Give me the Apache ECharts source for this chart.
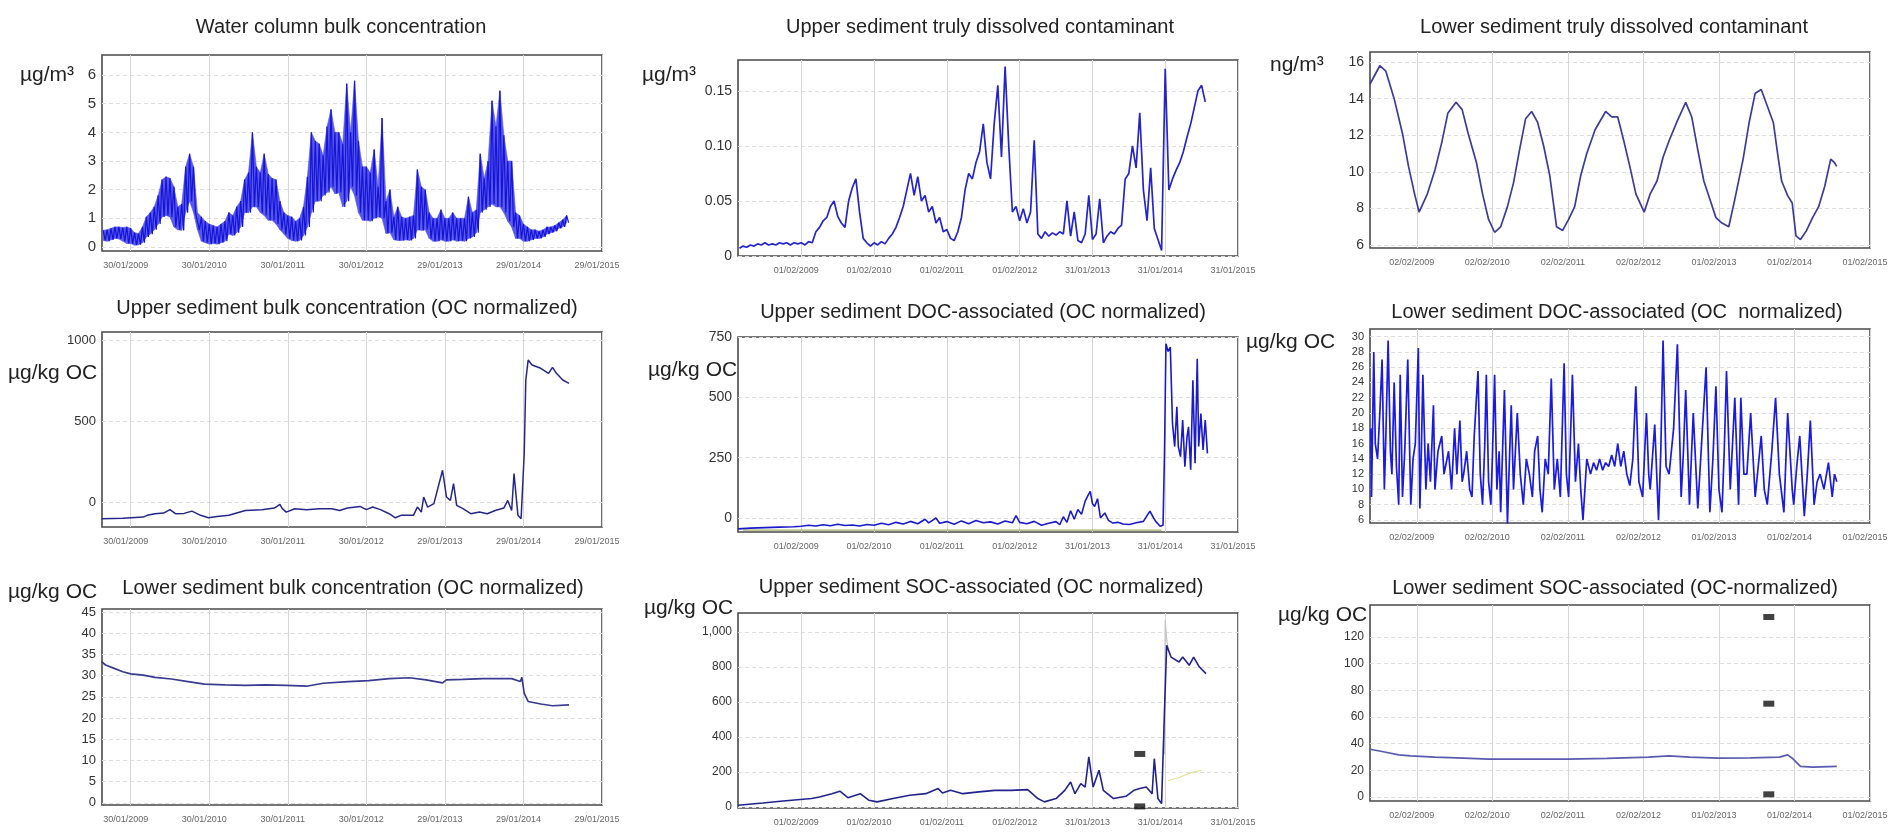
<!DOCTYPE html>
<html>
<head>
<meta charset="utf-8">
<script src="https://cdn.jsdelivr.net/npm/echarts@6/dist/echarts.min.js"></script>
<style>
  html, body { margin: 0; padding: 0; background: #fff; }
  #chart { width: 1900px; height: 832px; }
</style>
</head>
<body>
<div id="chart"></div>
<script>
// x positions are in years counted from the first date label of each column
const col1Dates = ['30/01/2009', '30/01/2010', '30/01/2011', '30/01/2012', '29/01/2013', '29/01/2014', '29/01/2015']
const col2Dates = ['01/02/2009', '01/02/2010', '01/02/2011', '01/02/2012', '31/01/2013', '31/01/2014', '31/01/2015']
const col3Dates = ['02/02/2009', '02/02/2010', '02/02/2011', '02/02/2012', '01/02/2013', '01/02/2014', '01/02/2015']
const yearTicks = [0, 1, 2, 3, 4, 5, 6]

const titles = [
  'Water column bulk concentration',
  'Upper sediment truly dissolved contaminant',
  'Lower sediment truly dissolved contaminant',
  'Upper sediment bulk concentration (OC normalized)',
  'Upper sediment DOC-associated (OC normalized)',
  'Lower sediment DOC-associated (OC  normalized)',
  'Lower sediment bulk concentration (OC normalized)',
  'Upper sediment SOC-associated (OC normalized)',
  'Lower sediment SOC-associated (OC-normalized)'
]
const units = ['µg/m³', 'µg/m³', 'ng/m³', 'µg/kg OC', 'µg/kg OC', 'µg/kg OC', 'µg/kg OC', 'µg/kg OC', 'µg/kg OC']

const p1YTicks = [0, 1, 2, 3, 4, 5, 6]
const p2YTicks = [0, 0.05, 0.1, 0.15]
const p2YLabels = ['0', '0.05', '0.10', '0.15']
const p3YTicks = [6, 8, 10, 12, 14, 16]
const p4YTicks = [0, 500, 1000]
const p5YTicks = [0, 250, 500, 750]
const p6YTicks = [6, 8, 10, 12, 14, 16, 18, 20, 22, 24, 26, 28, 30]
const p7YTicks = [0, 5, 10, 15, 20, 25, 30, 35, 40, 45]
const p8YTicks = [0, 200, 400, 600, 800, 1000]
const p8YLabels = ['0', '200', '400', '600', '800', '1,000']
const p9YTicks = [0, 20, 40, 60, 80, 100, 120]

// water column bulk concentration: top and bottom of the noisy band, every 0.05 year
const p1Start = -0.35
const p1Step = 0.05
const p1Upper = [0.58, 0.6, 0.65, 0.7, 0.7, 0.68, 0.7, 0.65, 0.5, 0.47, 0.7, 1.05, 1.2, 1.4, 1.8, 2.35, 2.45, 2.4, 2.1, 1.4,
  1.5, 2.8, 3.25, 2.8, 1.2, 1.05, 0.9, 0.8, 0.75, 0.7, 0.8, 0.9, 1.2, 1.1, 1.4, 1.6, 2.35, 2.6, 4.0, 2.8,
  2.6, 3.25, 2.55, 2.4, 2.35, 1.6, 1.2, 1.1, 1.05, 0.9, 1.0, 1.4, 2.45, 4.0, 3.7, 3.6, 3.2, 4.2, 4.8, 4.0,
  4.0, 3.6, 5.7, 4.0, 5.8, 3.7, 2.8, 2.8, 2.6, 3.4, 2.1, 4.5, 1.6, 2.0, 1.05, 1.4, 1.05, 1.0, 1.05, 1.1,
  2.7, 2.1, 2.0, 1.2, 1.0, 1.0, 1.3, 1.0, 1.0, 1.2, 1.0, 1.0, 1.0, 1.75, 1.2, 1.3, 3.25, 2.4, 3.0, 5.1,
  4.2, 5.45, 3.9, 3.0, 3.0, 1.2, 1.1, 0.8, 0.7, 0.6, 0.6, 0.55, 0.6, 0.7, 0.7, 0.75, 0.85, 0.95, 1.1]
const p1Lower = [0.23, 0.2, 0.25, 0.3, 0.28, 0.2, 0.12, 0.12, 0.06, 0.08, 0.15, 0.35, 0.45, 0.6, 0.8, 1.05, 1.1, 1.05, 0.7, 0.6,
  0.58, 1.2, 1.6, 1.2, 0.6, 0.2, 0.15, 0.1, 0.12, 0.1, 0.15, 0.2, 0.45, 0.4, 0.5, 0.7, 1.2, 1.2, 1.4, 1.4,
  1.2, 1.1, 0.93, 0.93, 0.8, 0.6, 0.45, 0.3, 0.23, 0.2, 0.23, 0.4, 0.7, 1.2, 1.6, 1.6, 1.8, 1.9, 2.1, 1.86,
  1.9, 1.4, 1.6, 2.1, 1.8, 1.2, 0.93, 0.93, 0.9, 1.0, 1.05, 1.0, 0.47, 0.5, 0.25, 0.23, 0.23, 0.25, 0.23, 0.3,
  0.6, 0.58, 0.6, 0.3, 0.2, 0.2, 0.25, 0.2, 0.2, 0.25, 0.2, 0.22, 0.2, 0.3, 0.35, 0.5, 1.2, 1.3, 1.4, 1.5,
  1.4, 1.4, 1.2, 0.9, 0.7, 0.3, 0.3, 0.2, 0.2, 0.25, 0.3, 0.3, 0.35, 0.45, 0.5, 0.55, 0.65, 0.7, 0.85]

// upper sediment truly dissolved, one value every 0.05 year
const p2Start = -0.85
const p2Step = 0.05
const p2Values = [0.007, 0.009, 0.008, 0.010, 0.009, 0.011, 0.010, 0.012, 0.010, 0.011, 0.010, 0.012, 0.011, 0.012, 0.010,
  0.012, 0.011, 0.012, 0.010, 0.013, 0.012, 0.022, 0.026, 0.032, 0.035, 0.045, 0.050, 0.036, 0.030, 0.026,
  0.050, 0.062, 0.070, 0.040, 0.016, 0.012, 0.009, 0.012, 0.010, 0.013, 0.011, 0.016, 0.020, 0.026, 0.035,
  0.045, 0.060, 0.075, 0.055, 0.072, 0.050, 0.055, 0.040, 0.045, 0.030, 0.035, 0.022, 0.024, 0.016, 0.014,
  0.022, 0.035, 0.060, 0.075, 0.070, 0.085, 0.095, 0.120, 0.085, 0.070, 0.120, 0.155, 0.090, 0.172, 0.100,
  0.040, 0.045, 0.032, 0.043, 0.030, 0.040, 0.105, 0.020, 0.016, 0.022, 0.018, 0.021, 0.019, 0.022, 0.020,
  0.050, 0.018, 0.040, 0.014, 0.012, 0.020, 0.055, 0.015, 0.020, 0.052, 0.012, 0.018, 0.022, 0.020, 0.025,
  0.028, 0.070, 0.075, 0.100, 0.080, 0.130, 0.060, 0.032, 0.080, 0.025, 0.015, 0.005, 0.170, 0.060, 0.070,
  0.078, 0.085, 0.095, 0.108, 0.120, 0.135, 0.150, 0.155, 0.140]

// lower sediment truly dissolved [year, ng/m3]
const p3Points = [[-0.62, 14.8], [-0.49, 15.8], [-0.41, 15.5], [-0.3, 14.0], [-0.19, 12.1], [-0.11, 10.3], [-0.03, 8.8],
  [0.03, 7.8], [0.14, 8.8], [0.24, 10.1], [0.33, 11.6], [0.41, 13.2], [0.52, 13.8], [0.6, 13.4], [0.68, 12.1],
  [0.79, 10.5], [0.87, 8.8], [0.95, 7.4], [1.03, 6.7], [1.11, 7.0], [1.2, 8.1], [1.28, 9.4], [1.36, 11.2],
  [1.44, 12.9], [1.52, 13.3], [1.6, 12.7], [1.68, 11.4], [1.76, 9.8], [1.85, 7.0], [1.93, 6.8], [2.01, 7.4],
  [2.09, 8.1], [2.17, 9.8], [2.25, 11.0], [2.36, 12.3], [2.5, 13.3], [2.58, 13.0], [2.66, 13.0], [2.74, 11.7],
  [2.82, 10.3], [2.9, 8.8], [3.01, 7.8], [3.09, 8.8], [3.18, 9.5], [3.26, 10.8], [3.34, 11.7], [3.45, 12.8],
  [3.56, 13.8], [3.64, 13.0], [3.72, 11.2], [3.8, 9.5], [3.88, 8.5], [3.96, 7.5], [4.04, 7.2], [4.13, 7.0],
  [4.21, 8.5], [4.32, 10.7], [4.4, 12.7], [4.48, 14.3], [4.56, 14.5], [4.64, 13.6], [4.72, 12.7], [4.78, 10.9],
  [4.83, 9.5], [4.91, 8.7], [4.97, 8.3], [5.02, 6.5], [5.08, 6.3], [5.16, 6.8], [5.24, 7.5], [5.32, 8.1],
  [5.4, 9.2], [5.48, 10.7], [5.53, 10.5], [5.56, 10.3]]

// upper sediment bulk (OC normalized)
const p4Points = [[-0.37, -103], [-0.1, -100], [0.16, -93], [0.21, -82], [0.31, -72], [0.42, -68], [0.5, -47],
  [0.57, -72], [0.68, -70], [0.78, -56], [0.89, -82], [0.99, -97], [1.1, -89], [1.25, -82], [1.46, -52],
  [1.67, -47], [1.83, -37], [1.9, -14], [1.93, -41], [1.98, -62], [2.09, -41], [2.24, -47], [2.4, -41],
  [2.56, -42], [2.66, -52], [2.76, -37], [2.92, -27], [3.0, -47], [3.08, -31], [3.18, -47], [3.29, -72],
  [3.37, -97], [3.44, -82], [3.6, -82], [3.65, -31], [3.7, -62], [3.73, 31], [3.78, -31], [3.86, -10],
  [3.97, 196], [4.02, 31], [4.07, 10], [4.11, 113], [4.15, -21], [4.23, -41], [4.33, -72], [4.44, -62],
  [4.54, -72], [4.64, -52], [4.75, -37], [4.8, 10], [4.85, -52], [4.88, 175], [4.93, -82], [4.97, -103],
  [5.01, 299], [5.03, 753], [5.06, 876], [5.11, 845], [5.22, 825], [5.32, 794], [5.37, 831], [5.42, 794],
  [5.5, 753], [5.58, 732]]

// upper sediment DOC-associated
const p5Points = [[-0.87, -45], [-0.7, -42], [-0.5, -40], [-0.3, -38], [-0.1, -36], [0.0, -34], [0.1, -30], [0.2, -33],
  [0.3, -28], [0.4, -32], [0.5, -26], [0.6, -31], [0.7, -29], [0.8, -33], [0.9, -27], [1.0, -30], [1.1, -22],
  [1.2, -28], [1.3, -18], [1.4, -25], [1.5, -14], [1.6, -24], [1.7, -5], [1.75, -20], [1.85, 0], [1.9, -22],
  [2.0, -15], [2.1, -26], [2.2, -12], [2.3, -24], [2.4, -10], [2.5, -20], [2.6, -16], [2.7, -25], [2.8, -12],
  [2.9, -20], [2.95, 10], [3.0, -18], [3.1, -24], [3.2, -14], [3.3, -30], [3.4, -22], [3.5, -15], [3.55, -28],
  [3.6, 5], [3.65, -18], [3.7, 30], [3.75, -5], [3.8, 35], [3.85, 15], [3.9, 70], [3.95, 100], [3.97, 110],
  [4.0, 60], [4.03, 48], [4.07, 80], [4.11, 0], [4.17, 21], [4.22, -10], [4.28, -21], [4.35, -18], [4.42, -25],
  [4.51, -27], [4.6, -20], [4.7, -14], [4.75, 10], [4.79, 28], [4.84, 0], [4.87, -14], [4.93, -34], [4.97, -30],
  [4.99, 268], [5.01, 722], [5.04, 690], [5.07, 708], [5.1, 392], [5.13, 296], [5.16, 461], [5.18, 296],
  [5.21, 254], [5.24, 406], [5.27, 213], [5.3, 337], [5.32, 378], [5.35, 200], [5.38, 571], [5.41, 227],
  [5.44, 660], [5.46, 296], [5.49, 433], [5.52, 282], [5.55, 406], [5.58, 268]]
const p5BasePoints = [[-0.8, -50], [4.95, -50]]

// lower sediment DOC-associated
const p6Points = [[-0.61, 18], [-0.6, 9], [-0.57, 28], [-0.55, 16], [-0.52, 14], [-0.49, 20], [-0.46, 27], [-0.43, 10],
  [-0.41, 17], [-0.38, 29.5], [-0.35, 15], [-0.33, 12], [-0.3, 24], [-0.27, 13], [-0.24, 8], [-0.22, 25],
  [-0.19, 9], [-0.16, 15], [-0.12, 27], [-0.08, 8], [-0.05, 14], [-0.02, 16], [0.02, 28.5], [0.04, 7.5],
  [0.06, 15], [0.08, 25], [0.12, 10], [0.15, 16], [0.18, 11], [0.22, 21], [0.24, 10], [0.28, 15], [0.33, 17],
  [0.36, 12], [0.38, 13], [0.42, 15], [0.46, 10], [0.5, 18], [0.53, 12], [0.57, 19], [0.6, 11], [0.62, 12],
  [0.66, 15], [0.7, 10], [0.73, 9], [0.76, 17], [0.81, 25.5], [0.84, 12], [0.87, 8], [0.9, 16], [0.92, 25],
  [0.95, 11], [0.98, 8], [1.0, 14], [1.03, 25], [1.06, 10], [1.09, 15], [1.11, 7], [1.16, 23], [1.2, 5.5],
  [1.22, 12], [1.25, 21], [1.28, 10], [1.33, 20], [1.37, 12], [1.41, 8], [1.45, 14], [1.49, 12], [1.53, 9],
  [1.56, 15], [1.6, 17], [1.63, 10], [1.66, 7], [1.7, 14], [1.74, 12], [1.78, 24.5], [1.82, 10], [1.86, 14],
  [1.9, 9], [1.95, 26.5], [1.98, 12], [2.01, 9], [2.06, 25], [2.1, 11], [2.14, 16], [2.17, 10], [2.2, 6],
  [2.25, 14], [2.3, 12], [2.34, 13.5], [2.38, 12.5], [2.42, 14], [2.46, 12.5], [2.5, 13.5], [2.54, 13],
  [2.58, 14.5], [2.62, 13], [2.66, 16], [2.7, 13], [2.74, 15], [2.78, 12], [2.82, 10.5], [2.86, 14], [2.9, 23.5],
  [2.94, 11], [2.99, 9], [3.04, 20], [3.07, 12], [3.09, 10], [3.15, 18.5], [3.18, 11], [3.2, 6], [3.23, 15],
  [3.26, 29.5], [3.3, 13], [3.34, 12], [3.4, 18], [3.45, 29], [3.5, 9], [3.53, 15], [3.56, 23], [3.61, 8],
  [3.63, 13], [3.66, 20], [3.72, 7.5], [3.77, 16], [3.83, 26], [3.88, 7], [3.92, 14], [3.96, 23.5], [4.0, 10],
  [4.04, 7], [4.07, 15], [4.1, 25.5], [4.15, 10], [4.21, 22], [4.26, 8], [4.29, 22], [4.33, 12], [4.37, 12],
  [4.42, 20], [4.48, 9], [4.52, 13], [4.56, 17], [4.6, 10], [4.64, 8], [4.7, 15], [4.75, 22], [4.8, 12],
  [4.86, 7], [4.91, 20], [4.97, 10], [4.99, 8], [5.03, 13], [5.07, 17], [5.13, 6.5], [5.17, 12], [5.21, 19],
  [5.26, 8], [5.3, 11], [5.34, 12], [5.39, 10], [5.45, 13.5], [5.5, 9], [5.53, 12], [5.56, 11]]

// lower sediment bulk (OC normalized)
const p7Points = [[-0.37, 33.3], [-0.32, 32.5], [-0.21, 31.7], [-0.1, 30.9], [0.0, 30.4], [0.16, 30.1], [0.31, 29.6],
  [0.52, 29.2], [0.73, 28.6], [0.94, 28.0], [1.2, 27.8], [1.46, 27.7], [1.72, 27.8], [1.98, 27.7], [2.24, 27.5],
  [2.45, 28.2], [2.77, 28.6], [3.03, 28.8], [3.29, 29.3], [3.55, 29.5], [3.76, 29.0], [3.97, 28.3], [4.02, 29.0],
  [4.23, 29.1], [4.49, 29.3], [4.85, 29.3], [4.96, 28.6], [4.98, 29.6], [5.01, 25.8], [5.06, 23.9], [5.22, 23.3],
  [5.37, 22.9], [5.58, 23.1]]

// upper sediment SOC-associated
const p8Points = [[-0.87, 10], [-0.53, 23], [-0.25, 34], [0.14, 48], [0.25, 57], [0.42, 76], [0.53, 90], [0.64, 53],
  [0.81, 76], [0.93, 38], [1.04, 29], [1.26, 48], [1.49, 67], [1.71, 76], [1.88, 105], [1.94, 80], [2.05, 95],
  [2.22, 76], [2.44, 86], [2.66, 95], [2.88, 95], [3.11, 99], [3.25, 48], [3.34, 29], [3.5, 48], [3.62, 95],
  [3.7, 143], [3.76, 76], [3.84, 133], [3.9, 114], [3.95, 286], [4.01, 114], [4.09, 210], [4.15, 95], [4.29, 48],
  [4.46, 61], [4.57, 95], [4.65, 105], [4.74, 114], [4.82, 76], [4.85, 276], [4.9, 48], [4.95, 19], [4.99, 552],
  [5.02, 924], [5.08, 857], [5.19, 829], [5.24, 857], [5.33, 810], [5.39, 857], [5.47, 800], [5.56, 762]]
const p8GreyPoints = [[4.99, 300], [5.0, 1070], [5.02, 960], [5.04, 900]]
const p8YellowPoints = [[5.04, 150], [5.2, 170], [5.35, 195], [5.5, 210]]
const p8Markers = [[4.65, 303], [4.65, 3]]

// lower sediment SOC-associated
const p9Points = [[-0.62, 35.8], [-0.46, 34.1], [-0.24, 31.6], [-0.08, 30.9], [0.24, 29.9], [0.62, 29.1], [0.95, 28.4],
  [1.44, 28.4], [1.99, 28.4], [2.52, 28.9], [3.07, 29.9], [3.34, 30.9], [3.61, 29.9], [3.99, 29.1], [4.42, 29.4],
  [4.8, 29.9], [4.91, 31.6], [4.97, 29.1], [5.08, 22.9], [5.24, 22.4], [5.56, 22.9]]
const p9Markers = [[4.66, 135], [4.66, 70], [4.66, 2]]

const byStep = (start, step, values) => values.map((v, i) => [start + i * step, v])
// band drawn as a zigzag between its top and bottom readings
const band = (start, step, upper, lower) =>
  upper.flatMap((u, i) => [[start + i * step, u], [start + i * step + step / 2, lower[i]]])
// one quad per step between the bottom and top readings: [x0, lo0, hi0, x1, lo1, hi1]
const bandQuads = (start, step, upper, lower) =>
  upper.slice(0, -1).map((u, i) => [start + i * step, lower[i], u, start + (i + 1) * step, lower[i + 1], upper[i + 1]])

// layout and styles (positions in px)
const FONT = 'Liberation Sans, Arial, sans-serif'
const panels = [
  { box: [102, 55, 500, 196], dates: col1Dates, xMin: -0.365, yMin: -0.14, yMax: 6.7, ticks: p1YTicks, yFont: 15, title: [341, 27], unit: [20, 75] },
  { box: [738, 60, 500, 196], dates: col2Dates, xMin: -0.87, yMin: 0, yMax: 0.178, ticks: p2YTicks, labels: p2YLabels, yFont: 14, title: [980, 27], unit: [642, 75] },
  { box: [1370, 52, 500, 196], dates: col3Dates, xMin: -0.62, yMin: 5.84, yMax: 16.55, ticks: p3YTicks, yFont: 14, title: [1614, 27], unit: [1270, 65] },
  { box: [102, 332, 500, 195], dates: col1Dates, xMin: -0.365, yMin: -154, yMax: 1049, ticks: p4YTicks, yFont: 13, title: [347, 308], unit: [8, 373] },
  { box: [738, 337, 500, 195], dates: col2Dates, xMin: -0.87, yMin: -58, yMax: 750, ticks: p5YTicks, yFont: 14, title: [983, 312], unit: [648, 370] },
  { box: [1370, 329, 500, 194], dates: col3Dates, xMin: -0.62, yMin: 5.6, yMax: 31, ticks: p6YTicks, yFont: 11, title: [1617, 312], unit: [1246, 342] },
  { box: [102, 609, 500, 196], dates: col1Dates, xMin: -0.365, yMin: -0.5, yMax: 45.7, ticks: p7YTicks, yFont: 13, title: [353, 588], unit: [8, 592] },
  { box: [738, 613, 500, 195], dates: col2Dates, xMin: -0.87, yMin: -6, yMax: 1109, ticks: p8YTicks, labels: p8YLabels, yFont: 12, title: [981, 587], unit: [644, 608] },
  { box: [1370, 605, 500, 196], dates: col3Dates, xMin: -0.62, yMin: -3, yMax: 144, ticks: p9YTicks, yFont: 12, title: [1615, 588], unit: [1278, 615] }
]

const lineSeries = [
  { panel: 0, data: band(p1Start, p1Step, p1Upper, p1Lower), color: '#1414d8', width: 1.2 },
  { panel: 1, data: byStep(p2Start, p2Step, p2Values), color: '#2424cc', width: 1.7 },
  { panel: 2, data: p3Points, color: '#3c3c98', width: 1.7 },
  { panel: 3, data: p4Points, color: '#26268a', width: 1.5 },
  { panel: 4, data: p5BasePoints, color: '#8c9a40', width: 1 },
  { panel: 4, data: p5Points, color: '#1a1ac8', width: 1.6 },
  { panel: 5, data: p6Points, color: '#1a1ae0', width: 1.7 },
  { panel: 6, data: p7Points, color: '#3a3a90', width: 1.7 },
  { panel: 7, data: p8GreyPoints, color: '#c4c4c4', width: 1.2 },
  { panel: 7, data: p8YellowPoints, color: '#e2e298', width: 1.2 },
  { panel: 7, data: p8Points, color: '#22228e', width: 1.6 },
  { panel: 8, data: p9Points, color: '#5a5ab0', width: 1.7 }
]
const markerSeries = [
  { panel: 7, data: p8Markers },
  { panel: 8, data: p9Markers }
]

const bandSeries = {
  type: 'custom', xAxisIndex: 0, yAxisIndex: 0, silent: true,
  data: bandQuads(p1Start, p1Step, p1Upper, p1Lower),
  encode: { x: [0, 3], y: [1, 2, 4, 5] },
  renderItem: (params, api) => {
    const a0 = api.coord([api.value(0), api.value(1)])
    const a1 = api.coord([api.value(0), api.value(2)])
    const b1 = api.coord([api.value(3), api.value(5)])
    const b0 = api.coord([api.value(3), api.value(4)])
    return {
      type: 'polygon',
      shape: { points: [a0, a1, b1, b0] },
      style: { fill: '#5656ec', stroke: '#5656ec', lineWidth: 0.6 }
    }
  }
}

const option = {
  animation: false,
  backgroundColor: '#fff',
  textStyle: { fontFamily: FONT },
  grid: panels.map(p => ({
    left: p.box[0], top: p.box[1], width: p.box[2], height: p.box[3],
    show: true, borderColor: '#4a4a4a', borderWidth: 1.6, backgroundColor: '#fff',
    containLabel: false, outerBoundsMode: 'none'
  })),
  xAxis: panels.map((p, i) => ({
    type: 'value', gridIndex: i, min: p.xMin, max: 6,
    axisLine: { show: false },
    axisTick: { show: false, customValues: yearTicks },
    axisLabel: {
      customValues: yearTicks, fontSize: 9, color: '#666', margin: 10, fontFamily: FONT,
      padding: [0, 10, 0, 0],
      formatter: v => p.dates[Math.round(v)]
    },
    splitLine: { show: true, lineStyle: { color: '#d6d6d6', width: 1 } }
  })),
  yAxis: panels.map((p, i) => ({
    type: 'value', gridIndex: i, min: p.yMin, max: p.yMax,
    axisLine: { show: false },
    axisTick: { show: false, customValues: p.ticks },
    axisLabel: {
      customValues: p.ticks, fontSize: p.yFont, color: '#333', margin: 6, fontFamily: FONT,
      formatter: v => {
        if (!p.labels) return String(v)
        let k = 0
        p.ticks.forEach((t, j) => { if (Math.abs(t - v) < Math.abs(p.ticks[k] - v)) k = j })
        return p.labels[k]
      }
    },
    splitLine: { show: true, lineStyle: { color: '#dedede', width: 1, type: [4, 3] } }
  })),
  series: [
    bandSeries,
    ...lineSeries.map(s => ({
      type: 'line', xAxisIndex: s.panel, yAxisIndex: s.panel, data: s.data,
      showSymbol: false, symbol: 'none', silent: true,
      lineStyle: { color: s.color, width: s.width }
    })),
    ...markerSeries.map(s => ({
      type: 'scatter', xAxisIndex: s.panel, yAxisIndex: s.panel, data: s.data,
      symbol: 'rect', symbolSize: [11, 6], itemStyle: { color: '#111' }, silent: true
    }))
  ],
  graphic: [
    ...panels.map((p, i) => ({
      type: 'text', x: p.title[0], y: p.title[1], silent: true,
      style: {
        text: titles[i], font: '20px ' + FONT, fill: '#222',
        textAlign: 'center', textVerticalAlign: 'middle', align: 'center', verticalAlign: 'middle'
      }
    })),
    ...panels.map((p, i) => ({
      type: 'text', x: p.unit[0], y: p.unit[1], silent: true,
      style: {
        text: units[i], font: '21px ' + FONT, fill: '#222',
        textAlign: 'left', textVerticalAlign: 'middle', align: 'left', verticalAlign: 'middle'
      }
    }))
  ]
}

const chart = echarts.init(document.getElementById('chart'), null, { renderer: 'canvas' })
chart.setOption(option)
</script>
</body>
</html>
